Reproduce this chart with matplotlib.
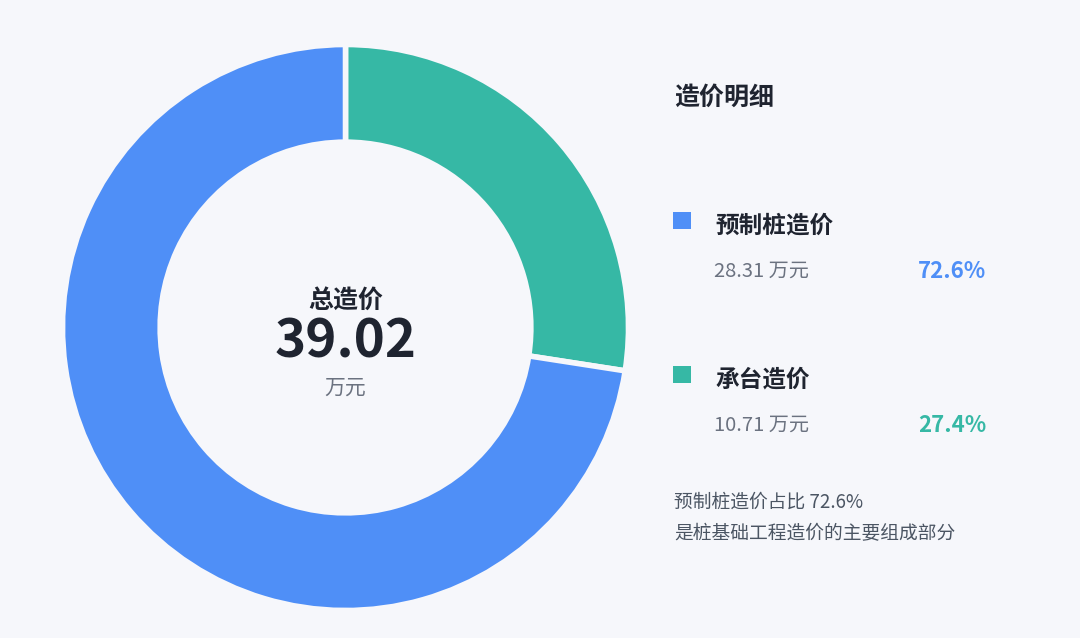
import matplotlib
matplotlib.use('Agg')
import matplotlib.pyplot as plt

plt.rcParams['font.family'] = ['Noto Sans CJK SC', 'DejaVu Sans']

# 数据
categories = ['承台造价', '预制桩造价']
values = [10.71, 28.31]
colors = ['#36b8a5', '#4f8ff7']
total = 39.02
shares = ['27.4%', '72.6%']

bg = '#f6f7fb'
dark = '#1f2430'
grey = '#6b7280'

W, H = 1080, 638
fig = plt.figure(figsize=(W / 100, H / 100), dpi=100)
fig.patch.set_facecolor(bg)

# 环形图, 圆心 (345, 328), 半径 283 px
cx, cy, r = 345.5, 327.5, 283
ax = fig.add_axes([(cx - r) / W, 1 - (cy + r) / H, 2 * r / W, 2 * r / H])
ax.set_facecolor(bg)
ax.pie(values, colors=colors, startangle=90, counterclock=False, radius=1,
       wedgeprops=dict(width=0.345, edgecolor=bg, linewidth=4))
ax.set_xlim(-1, 1)
ax.set_ylim(-1, 1)
ax.set_aspect('equal')
ax.axis('off')

# 文字位置按像素给, 稍微往下偏一点
def px(x, y):
    return x / W, 1 - (y + 2.5) / H

fig.text(*px(cx, 298), '总造价', ha='center', va='center', fontsize=18,
         fontweight='bold', color=dark)
fig.text(*px(cx, 340), f'{total:.2f}', ha='center', va='center', fontsize=38,
         fontweight='bold', color=dark)
fig.text(*px(cx, 385), '万元', ha='center', va='center', fontsize=15, color=grey)

# 右侧明细
fig.text(*px(674, 95), '造价明细', ha='left', va='center', fontsize=18,
         fontweight='bold', color=dark)

rows = [(223, 1), (377, 0)]
for y, i in rows:
    fig.patches.append(plt.Rectangle((673 / W, 1 - (y + 6) / H), 18 / W, 17 / H,
                                     transform=fig.transFigure,
                                     facecolor=colors[i], edgecolor='none'))
    fig.text(*px(715, y), categories[i], ha='left', va='center', fontsize=17,
             fontweight='bold', color=dark)
    fig.text(*px(714, y + 46), f'{values[i]:.2f} 万元', ha='left', va='center',
             fontsize=14.5, color=grey)
    fig.text(*px(986, y + 46), shares[i], ha='right', va='center', fontsize=16,
             fontweight='bold', color=colors[i])

fig.text(*px(674, 500), '预制桩造价占比 72.6%', ha='left', va='center',
         fontsize=13.5, color='#4b5563')
fig.text(*px(674, 531), '是桩基础工程造价的主要组成部分', ha='left', va='center',
         fontsize=13.5, color='#4b5563')

fig.savefig('out.png', dpi=100, facecolor=bg)
